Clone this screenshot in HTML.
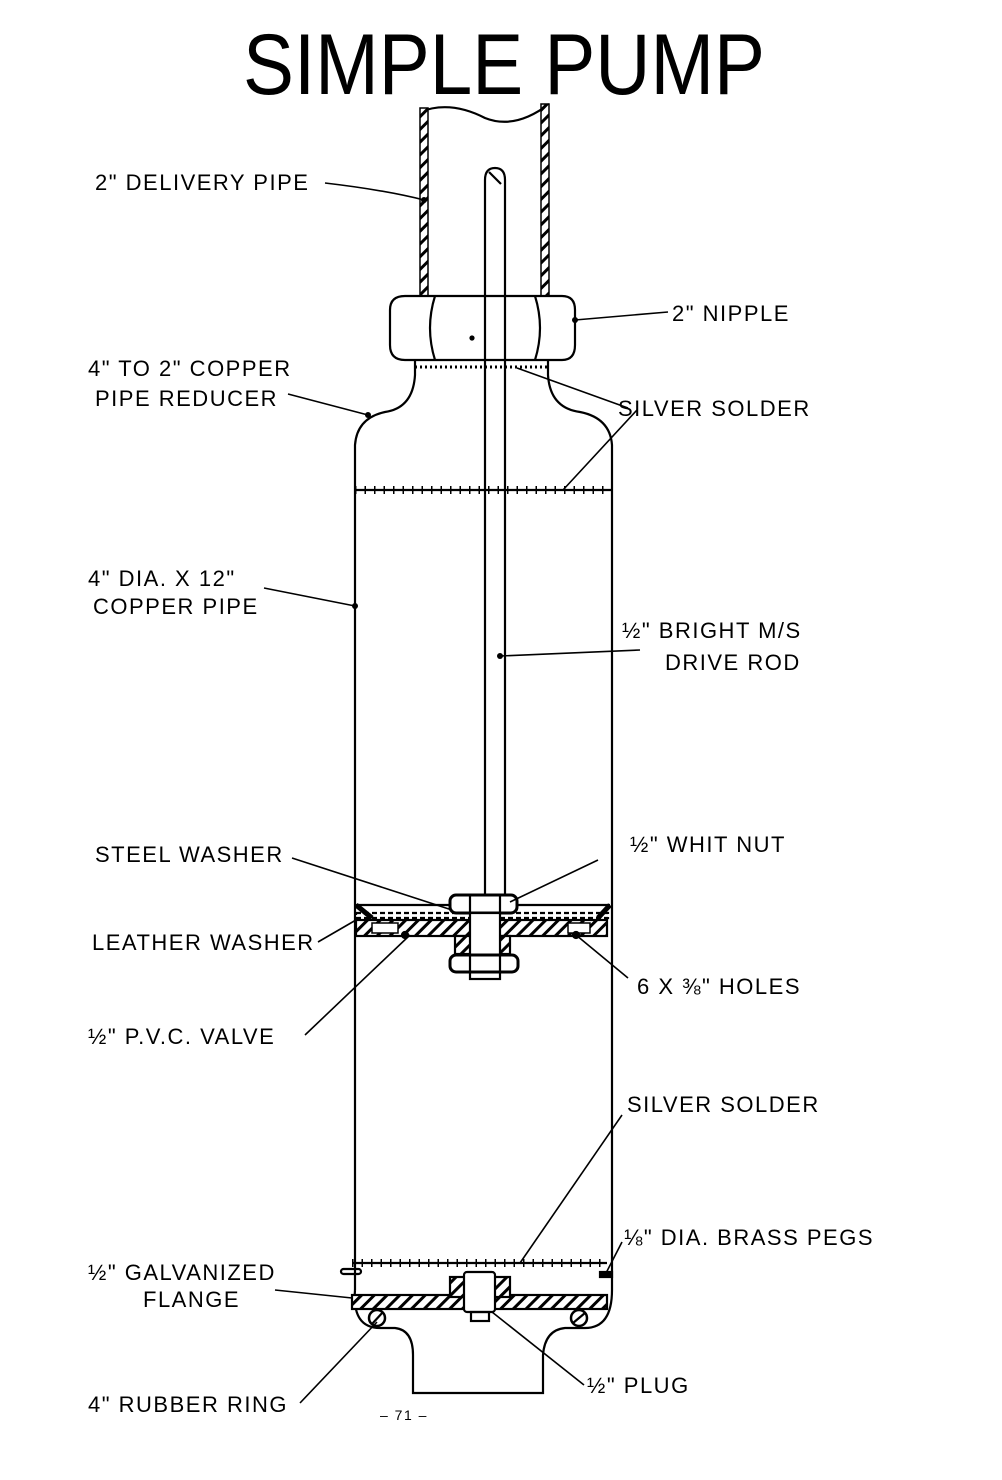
<!DOCTYPE html>
<html><head><meta charset="utf-8"><style>
html,body{margin:0;padding:0;background:#fff}
svg{display:block}
text{font-family:"Liberation Sans",sans-serif;font-size:22px;fill:#000;letter-spacing:1.5px}
</style></head><body>
<svg width="1002" height="1480" viewBox="0 0 1002 1480" xmlns="http://www.w3.org/2000/svg">
<defs>
<pattern id="h" width="9" height="9" patternUnits="userSpaceOnUse" patternTransform="rotate(45)">
<rect width="9" height="9" fill="#fff"/><rect width="3" height="9" fill="#000"/></pattern>
</defs>
<text x="243" y="94" textLength="522" lengthAdjust="spacingAndGlyphs" style="font-size:86px;letter-spacing:0">SIMPLE PUMP</text>
<g fill="none" stroke="#000" stroke-width="2.2">
<path d="M420 112 Q450 100 485 118 Q515 130 549 104"/>
<rect x="420" y="108" width="8" height="188" fill="url(#h)" stroke-width="1.5"/>
<rect x="541" y="104" width="8" height="192" fill="url(#h)" stroke-width="1.5"/>
<path d="M485 180 Q485 168 495 168 Q505 168 505 180 L505 895 M485 180 L485 895"/>
<path d="M489 172 L501 184"/>
<path d="M390 310 Q390 296 405 296 L562 296 Q575 296 575 310 L575 345 Q575 360 562 360 L405 360 Q390 360 390 345 Z"/>
<path d="M435 296 Q425 328 435 360 M535 296 Q545 328 535 360"/>
<circle cx="472" cy="338" r="1.5" fill="#000"/>
<path d="M415 360 L415 375 Q413 408 385 412 Q357 418 355 445 L355 1290"/>
<path d="M548 360 L548 375 Q550 408 580 412 Q610 418 612 445 L612 1290"/>
<path d="M415 367 L548 367" stroke-dasharray="2 3" stroke-width="3"/>
<path d="M355 490 L612 490"/>
<path d="M355 490 L612 490" stroke-dasharray="1.5 8" stroke-width="8"/>
<path d="M356 905 L450 905 M517 905 L610 905"/>
<path d="M356 905 L372 918 M610 905 L598 918" stroke-width="5"/>
<rect x="450" y="895" width="67" height="18" rx="6" stroke-width="3"/>
<path d="M470 895 L470 913 M500 895 L500 913"/>
<rect x="356" y="913" width="252" height="5" stroke-dasharray="5 3"/>
<rect x="356" y="920" width="251" height="16" fill="url(#h)"/>
<rect x="372" y="923" width="26" height="10" fill="#fff" stroke-width="1.5"/>
<rect x="568" y="923" width="22" height="10" fill="#fff" stroke-width="1.5"/>
<rect x="455" y="936" width="55" height="18" fill="url(#h)"/>
<rect x="470" y="913" width="30" height="42" fill="#fff"/>
<rect x="450" y="955" width="68" height="17" rx="6" stroke-width="3"/>
<path d="M470 955 L470 972 M500 955 L500 972"/>
<rect x="470" y="972" width="30" height="7"/>
<circle cx="405" cy="935" r="3" fill="#000"/>
<circle cx="576" cy="935" r="3" fill="#000"/>
<path d="M352 1263 L607 1263"/>
<path d="M352 1263 L607 1263" stroke-dasharray="1.5 8" stroke-width="8"/>
<rect x="341" y="1269" width="20" height="5" rx="2.5"/>
<rect x="600" y="1272" width="12" height="5" fill="#000"/>
<path d="M355 1290 Q352 1328 380 1328 L395 1328 Q413 1330 413 1355 L413 1393 L543 1393 L543 1355 Q545 1330 565 1328 L585 1328 Q612 1328 612 1290"/>
<rect x="352" y="1295" width="255" height="14" fill="url(#h)"/>
<rect x="450" y="1277" width="60" height="20" fill="url(#h)"/>
<rect x="464" y="1272" width="31" height="40" rx="3" fill="#fff"/>
<rect x="471" y="1312" width="18" height="9"/>
<circle cx="377" cy="1318" r="8" fill="#fff" stroke-width="2.5"/>
<path d="M372 1324 L383 1312"/>
<circle cx="579" cy="1318" r="8" fill="#fff" stroke-width="2.5"/>
<path d="M573 1323 L585 1313"/>
</g>
<g stroke="#000" stroke-width="1.6" fill="none">
<path d="M325 183 Q385 190 424 200"/>
<path d="M575 320 L668 312"/>
<path d="M288 394 L368 415"/>
<path d="M517 368 L628 408 M563 490 L637 410"/>
<path d="M264 588 L355 606"/>
<path d="M500 656 L640 650"/>
<path d="M292 858 L452 910"/>
<path d="M510 902 L598 860"/>
<path d="M318 942 L356 920"/>
<path d="M576 935 L628 978"/>
<path d="M305 1035 L410 935"/>
<path d="M520 1263 L622 1115"/>
<path d="M604 1277 L622 1242"/>
<path d="M275 1290 L352 1298"/>
<path d="M300 1403 L377 1322"/>
<path d="M492 1312 L584 1385"/>
</g>
<g fill="#000">
<circle cx="424" cy="200" r="3"/><circle cx="575" cy="320" r="3"/><circle cx="368" cy="415" r="3"/>
<circle cx="355" cy="606" r="3"/><circle cx="500" cy="656" r="3"/>
</g>
<text x="95" y="190">2" DELIVERY PIPE</text>
<text x="672" y="321">2" NIPPLE</text>
<text x="88" y="376">4" TO 2" COPPER</text>
<text x="95" y="406">PIPE REDUCER</text>
<text x="618" y="416">SILVER SOLDER</text>
<text x="88" y="586">4" DIA. X 12"</text>
<text x="93" y="614">COPPER PIPE</text>
<text x="622" y="638">½" BRIGHT M/S</text>
<text x="665" y="670">DRIVE ROD</text>
<text x="95" y="862">STEEL WASHER</text>
<text x="630" y="852">½"  WHIT NUT</text>
<text x="92" y="950">LEATHER WASHER</text>
<text x="637" y="994">6 X ⅜"  HOLES</text>
<text x="88" y="1044">½" P.V.C. VALVE</text>
<text x="627" y="1112">SILVER SOLDER</text>
<text x="624" y="1245">⅛" DIA. BRASS PEGS</text>
<text x="88" y="1280">½" GALVANIZED</text>
<text x="143" y="1307">FLANGE</text>
<text x="88" y="1412">4" RUBBER RING</text>
<text x="587" y="1393">½" PLUG</text>
<text x="380" y="1420" style="font-size:14px">–  71 –</text>
</svg>
</body></html>
